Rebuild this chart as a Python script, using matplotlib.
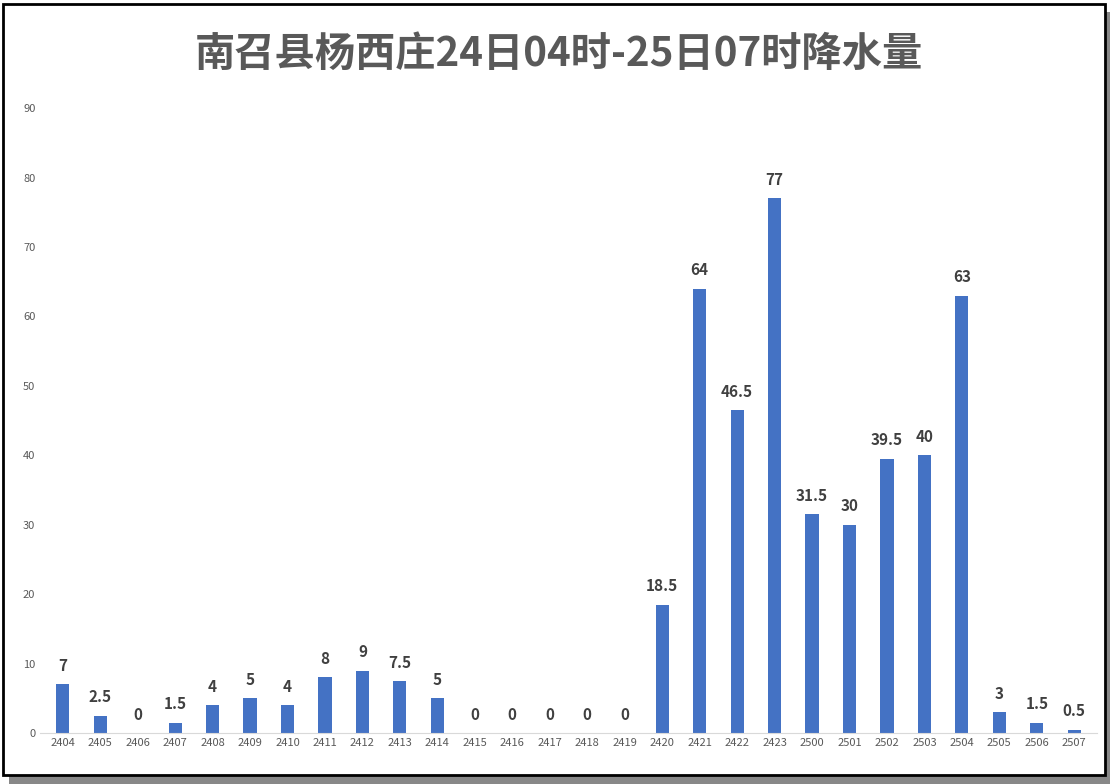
import matplotlib.pyplot as plt
from matplotlib.patches import Rectangle

categories = [str(h) for h in range(2404, 2424)] + [str(h) for h in range(2500, 2508)]
rain = [7, 2.5, 0, 1.5, 4, 5, 4, 8, 9, 7.5, 5, 0, 0, 0, 0, 0, 18.5, 64, 46.5, 77,
        31.5, 30, 39.5, 40, 63, 3, 1.5, 0.5]
title = "南召县杨西庄24日04时-25日07时降水量"

plt.rcParams['font.family'] = ["Noto Sans CJK SC", "DejaVu Sans"]

fig = plt.figure(figsize=(11.18, 7.84), dpi=100)
# shadow + border, kept behind the axes
fig.patches.append(Rectangle((0.008, 0.0), 0.985, 0.985, transform=fig.transFigure,
                             facecolor='#888888', edgecolor='none', zorder=-2))
fig.patches.append(Rectangle((0.003, 0.012), 0.985, 0.983, transform=fig.transFigure,
                             facecolor='white', edgecolor='black', linewidth=2, zorder=-1))

ax = fig.add_axes([0.036, 0.065, 0.945, 0.797])
ax.set_facecolor('none')
x = range(len(categories))
ax.bar(x, rain, width=0.35, color='#4472C4')
for xi, v in zip(x, rain):
    ax.text(xi, v + 1.5, f"{v:g}", ha='center', va='bottom', fontsize=11,
            fontweight='bold', color='#404040')

ax.set_xlim(-0.6, len(categories) - 0.4)
ax.set_ylim(0, 90)
ax.set_yticks(range(0, 91, 10))
ax.set_xticks(list(x))
ax.set_xticklabels(categories)
ax.tick_params(axis='both', labelsize=8, colors='#595959', length=0)
for s in ['top', 'right', 'left']:
    ax.spines[s].set_visible(False)
ax.spines['bottom'].set_color('#d9d9d9')

fig.text(0.5, 0.93, title, ha='center', va='center', fontsize=29,
         fontweight='bold', color='#595959')

fig.savefig('out.png', dpi=100)
